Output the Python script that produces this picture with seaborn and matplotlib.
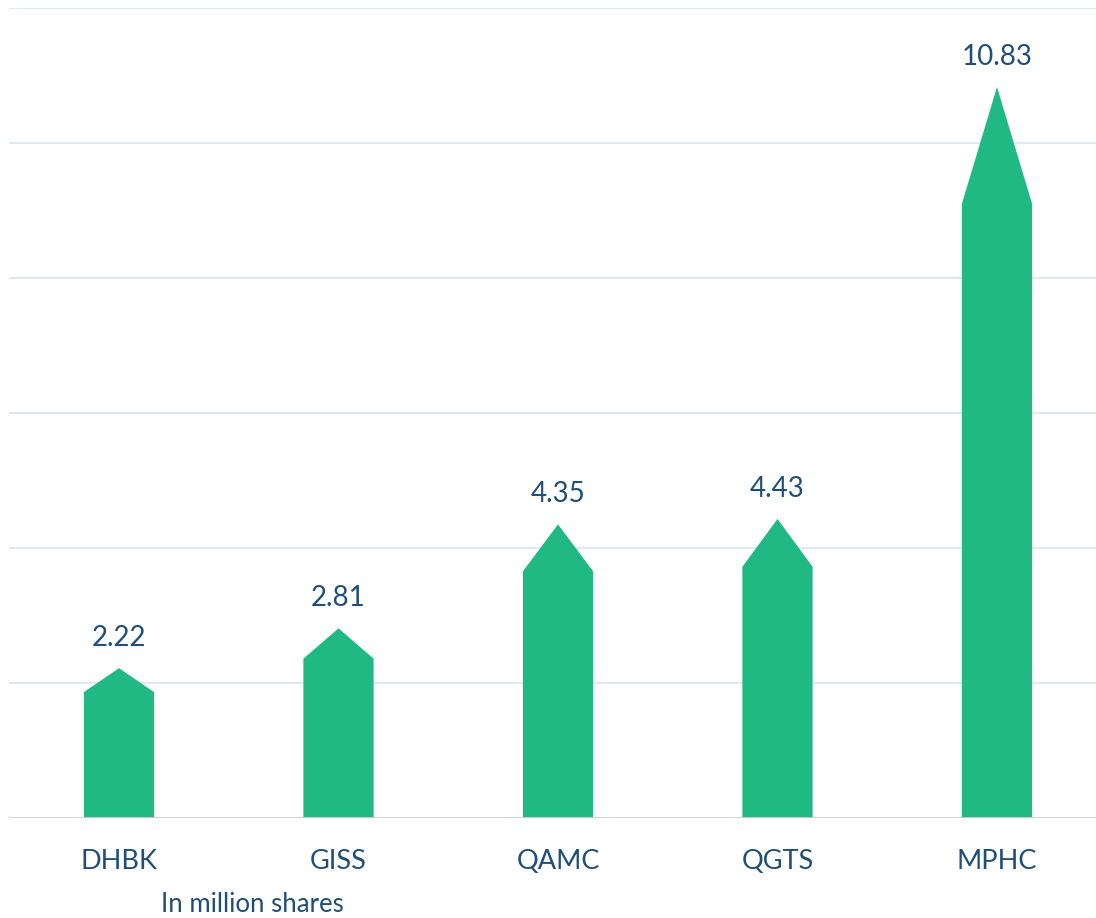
import matplotlib
matplotlib.use("Agg")
import matplotlib.pyplot as plt
from matplotlib.patches import Polygon
import seaborn as sns
import pandas as pd

# -----------------------------
# Data
# -----------------------------
tickers = ["DHBK", "GISS", "QAMC", "QGTS", "MPHC"]
volumes = [2.22, 2.81, 4.35, 4.43, 10.83]
y_ticks = [0, 2, 4, 6, 8, 10, 12]
unit_label = "In million shares"

bar_color = "#20b984"
text_color = "#1f4e79"
head_frac = 0.16  # arrow head takes this share of bar height

df = pd.DataFrame({"ticker": tickers, "value": volumes})

sns.set_theme(style="white")
plt.rcParams["font.family"] = ["Lato", "DejaVu Sans"]

fig = plt.figure(figsize=(10.96, 9.18), dpi=100)
ax = fig.add_axes([9.25 / 1096, 100 / 918, 1097.5 / 1096, 810 / 918])

sns.barplot(data=df, x="ticker", y="value", color=bar_color, width=0.32,
            saturation=1, ax=ax, zorder=3)

# turn the rectangles into arrow shapes
for p in ax.patches:
    x0, w, h = p.get_x(), p.get_width(), p.get_height()
    p.set_visible(False)
    pts = [(x0, 0), (x0 + w, 0), (x0 + w, h * (1 - head_frac)),
           (x0 + w / 2, h), (x0, h * (1 - head_frac))]
    ax.add_patch(Polygon(pts, closed=True, facecolor=bar_color,
                         edgecolor="none", zorder=3))
    ax.annotate(f"{h:.2f}", (x0 + w / 2, h), xytext=(0, 30),
                textcoords="offset pixels", ha="center", va="center",
                fontsize=20, color=text_color)

ax.set_ylim(0, 12)
ax.set_xlim(-0.5, 4.5)
ax.set_yticks(y_ticks)
ax.set_yticklabels([])
ax.grid(axis="y", color="#dde9f4", linewidth=1.5, zorder=0)
ax.axhline(0, color="#d0d0d0", linewidth=2, zorder=4)
for s in ax.spines.values():
    s.set_visible(False)

ax.set_xlabel("")
ax.set_ylabel("")
ax.tick_params(axis="x", length=0, pad=22, labelsize=19.5, labelcolor=text_color)
ax.tick_params(axis="y", length=0)

fig.text(252 / 1096, 1 - 904 / 918, unit_label, ha="center", va="center",
         fontsize=18.5, color=text_color)

fig.savefig("out.png", dpi=100)
plt.close(fig)
